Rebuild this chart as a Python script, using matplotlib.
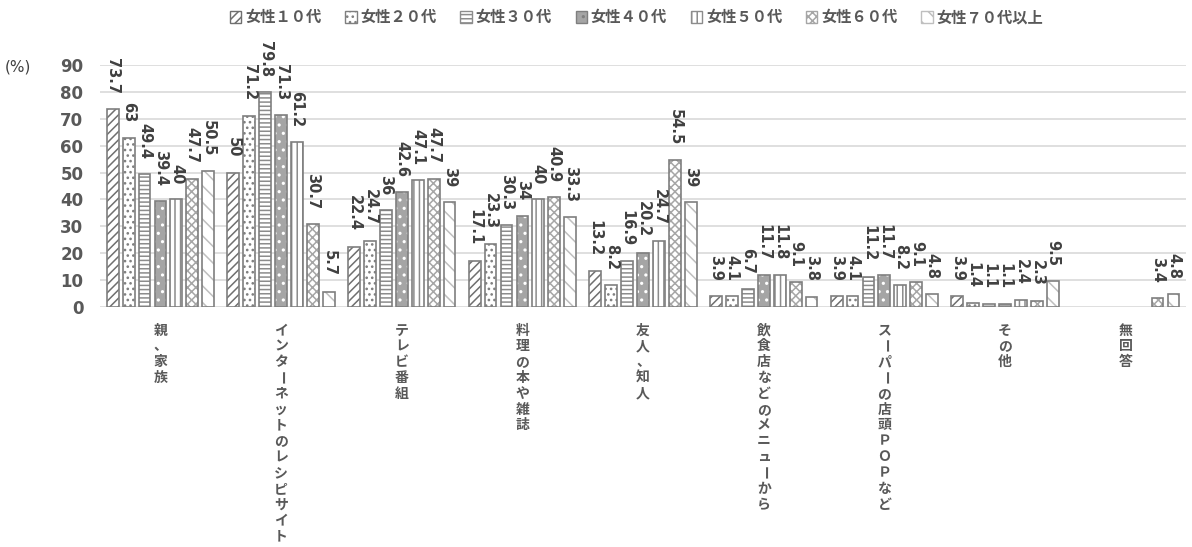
import matplotlib
matplotlib.use("Agg")
import matplotlib.pyplot as plt
from matplotlib.patches import Patch
import numpy as np

plt.rcParams['font.family'] = ['DejaVu Sans', 'Noto Sans CJK JP']
plt.rcParams['hatch.linewidth'] = 1.1

# データ
categories = ['親、家族', 'インターネットのレシピサイト', 'テレビ番組', '料理の本や雑誌',
              '友人、知人', '飲食店などのメニューから', 'スーパーの店頭ＰＯＰなど', 'その他', '無回答']
series = ['女性１０代', '女性２０代', '女性３０代', '女性４０代', '女性５０代', '女性６０代', '女性７０代以上']
nan = np.nan
v10 = [73.7, 50, 22.4, 17.1, 13.2, 3.9, 3.9, 3.9, nan]
v20 = [63, 71.2, 24.7, 23.3, 8.2, 4.1, 4.1, 1.4, nan]
v30 = [49.4, 79.8, 36, 30.3, 16.9, 6.7, 11.2, 1.1, nan]
v40 = [39.4, 71.3, 42.6, 34, 20.2, 11.7, 11.7, 1.1, nan]
v50 = [40, 61.2, 47.1, 40, 24.7, 11.8, 8.2, 2.4, nan]
v60 = [47.7, 30.7, 47.7, 40.9, 54.5, 9.1, 9.1, 2.3, 3.4]
v70 = [50.5, 5.7, 39, 33.3, 39, 3.8, 4.8, 9.5, 4.8]
values = [v10, v20, v30, v40, v50, v60, v70]

# 模様: (塗り, ハッチ, ハッチ色)
styles = [
    ('white', '////', '#6f6f6f'),
    ('white', '...', '#7f7f7f'),
    ('white', '----', '#8c8c8c'),
    ('#a5a5a5', '..', 'white'),
    ('white', '|||', '#8c8c8c'),
    ('white', 'xxxx', '#a6a6a6'),
    ('white', '\\\\', '#bfbfbf'),
]
edge = '#7f7f7f'

fig = plt.figure(figsize=(11.92, 5.47), dpi=100)
ax = fig.add_axes([0.084, 0.439, 0.911, 0.442])

x = np.arange(len(categories))
pitch = 0.132
width = 0.098

for i, vals in enumerate(values):
    fc, hatch, hc = styles[i]
    xs = x + (i - 3) * pitch
    v = np.array(vals, dtype=float)
    ax.bar(xs, v, width, color=fc, hatch=hatch, edgecolor=hc, linewidth=0, zorder=2)
    ax.bar(xs, v, width, fill=False, edgecolor=edge, linewidth=1.2, zorder=3)
    for xi, vi in zip(xs, v):
        if np.isnan(vi):
            continue
        ax.annotate(f"{vi:g}", xy=(xi, vi), xytext=(0, 11), textcoords='offset points',
                    rotation=-90, ha='center', va='bottom', fontsize=10.5,
                    fontweight='bold', color='#404040', annotation_clip=False, zorder=4)

ax.set_xlim(-0.5, 8.5)
ax.set_ylim(0, 90)
ax.set_yticks(range(0, 91, 10))
ax.set_xticks([])
ax.grid(axis='y', color='#d9d9d9', linewidth=1.2, zorder=0)
ax.set_axisbelow(True)
for s in ax.spines.values():
    s.set_visible(False)
ax.tick_params(axis='y', length=0, pad=12, labelsize=12, labelcolor='#595959')
for lab in ax.get_yticklabels():
    lab.set_fontweight('bold')

# 縦書きのカテゴリ名
for xi, cat in zip(x, categories):
    for k, ch in enumerate(cat):
        rot = -90 if ch == 'ー' else 0
        ax.annotate(ch, xy=(xi, 0), xycoords=('data', 'axes fraction'),
                    xytext=(0, -17 - k * 11.4), textcoords='offset points',
                    ha='center', va='center', rotation=rot, fontsize=10,
                    fontweight='bold', color='#595959',
                    family=['Noto Sans CJK JP', 'DejaVu Sans'], annotation_clip=False)

fig.text(0.004, 0.878, '(%)', fontsize=11, color='#404040', va='center')

handles = [Patch(facecolor=fc, hatch=h, edgecolor=hc if fc == 'white' else edge)
           for fc, h, hc in styles]
fig.legend(handles, series, ncol=7, loc='upper center', bbox_to_anchor=(0.534, 1.008),
           frameon=False, handlelength=0.75, handleheight=0.75, handletextpad=0.25,
           columnspacing=1.55,
           prop={'family': ['Noto Sans CJK JP', 'DejaVu Sans'], 'weight': 'bold', 'size': 11},
           labelcolor='#595959')

fig.savefig('out.png', dpi=100)
